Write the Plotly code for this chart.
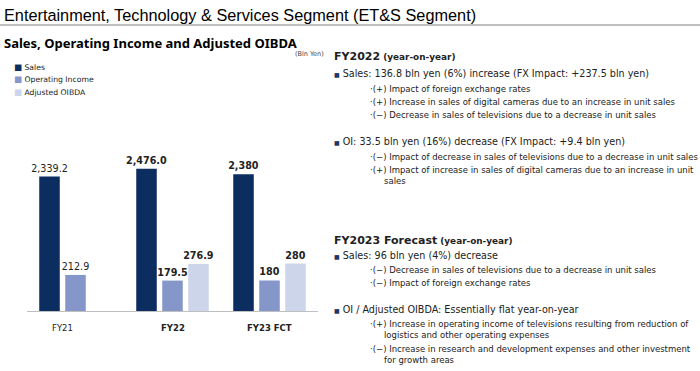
import plotly.graph_objects as go

# ---- data ----
categories = ["FY21", "FY22", "FY23 FCT"]
sales = [2339.2, 2476.0, 2380]
operating_income = [212.9, 179.5, 180]
adjusted_oibda = [None, 276.9, 280]
is_forecast = [False, False, True]
bold_cat = [False, True, True]
series_names = ["Sales", "Operating Income", "Adjusted OIBDA"]

colors = ["#0b2d60", "#8596c9", "#cdd5ea"]

W, H = 700, 371
L, R, T, B = 27, 382, 150, 60
PW, PH = W - L - R, H - T - B


def fmt(v, fc, b):
    if v is None:
        return ""
    s = f"{v:,.0f}" if fc else f"{v:,.1f}"
    return f"<b>{s}</b>" if b else s


def px(x, y):
    return (x - L) / PW, (H - B - y) / PH


fig = go.Figure()
vals = [sales, operating_income, adjusted_oibda]
axes = ["y", "y2", "y2"]
for i in range(3):
    fig.add_trace(go.Bar(
        x=categories, y=vals[i], name=series_names[i],
        marker=dict(color=colors[i], line=dict(width=0)),
        yaxis=axes[i], offsetgroup=str(i), alignmentgroup="a",
        text=[fmt(v, f, b) for v, f, b in zip(vals[i], is_forecast, bold_cat)],
        textposition="outside", cliponaxis=False, constraintext="none",
        textfont=dict(family="DejaVu Sans", size=9.6, color="#222222"),
        showlegend=False, hoverinfo="skip",
    ))

ann = []


def add_text(x, y, text, size, bold=False, color="#222222", family="DejaVu Sans", xanchor="left"):
    xp, yp = px(x, y)
    ann.append(dict(x=xp, y=yp, xref="paper", yref="paper", text=f"<b>{text}</b>" if bold else text,
                    showarrow=False, xanchor=xanchor, yanchor="middle",
                    font=dict(size=size, color=color, family=family)))


# title & subtitle
add_text(2, 15, "Entertainment, Technology &amp; Services Segment (ET&amp;S Segment)", 16.3,
         color="#000000", family="Liberation Sans")
add_text(2, 43, "Sales, Operating Income and Adjusted OIBDA", 13, bold=True, color="#000000",
         family="Noto Sans, Liberation Sans")
add_text(326, 54, "(Bln Yen)", 6.5, color="#444444", xanchor="right")

# legend
for i, n in enumerate(series_names):
    add_text(12, 67 + 12.3 * i,
             f"<span style='color:{colors[i]};font-size:8.5px'>■</span> {n}", 7.7, color="#222222")

# category labels
for i, c in enumerate(categories):
    ann.append(dict(x=c, y=0, xref="x", yref="paper", yanchor="middle", yshift=-17,
                    xshift=-13 if i == 0 else 0,
                    text=f"<b>{c}</b>" if bold_cat[i] else c, showarrow=False,
                    font=dict(size=8.5, color="#222222", family="DejaVu Sans")))

sq = "<span style='font-size:6px;color:#1f3864'>■</span> "
hdr = "<b><span style='font-size:11px'>{}</span> (year-on-year)</b>"
right = [
    (57, 332, hdr.format("FY2022"), 8.9),
    (73, 332, sq + "Sales: 136.8 bln yen (6%) increase (FX Impact: +237.5 bln yen)", 9.6),
    (89, 368, "·(+) Impact of foreign exchange rates", 8.5),
    (102, 368, "·(+) Increase in sales of digital cameras due to an increase in unit sales", 8.5),
    (115, 368, "·(−) Decrease in sales of televisions due to a decrease in unit sales", 8.5),
    (141, 332, sq + "OI: 33.5 bln yen (16%) decrease (FX Impact: +9.4 bln yen)", 9.6),
    (157, 368, "·(−) Impact of decrease in sales of televisions due to a decrease in unit sales", 8.5),
    (170, 368, "·(+) Impact of increase in sales of digital cameras due to an increase in unit", 8.5),
    (181, 382, "sales", 8.5),
    (240, 332, hdr.format("FY2023 Forecast"), 8.9),
    (255, 332, sq + "Sales: 96 bln yen (4%) decrease", 9.6),
    (270, 368, "·(−) Decrease in sales of televisions due to a decrease in unit sales", 8.5),
    (283, 368, "·(−) Impact of foreign exchange rates", 8.5),
    (309, 332, sq + "OI / Adjusted OIBDA: Essentially flat year-on-year", 9.6),
    (324, 368, "·(+) Increase in operating income of televisions resulting from reduction of", 8.5),
    (335, 382, "logistics and other operating expenses", 8.5),
    (349, 368, "·(−) Increase in research and development expenses and other investment", 8.5),
    (360, 382, "for growth areas", 8.5),
]
for y, x, t, s in right:
    add_text(x, y, t, s)

x0, _ = px(0, 0)
x1, _ = px(700, 0)
_, yl = px(0, 25)

fig.update_layout(
    width=W, height=H, margin=dict(l=L, r=R, t=T, b=B),
    paper_bgcolor="white", plot_bgcolor="white",
    barmode="group", bargap=0.196, bargroupgap=0.21,
    xaxis=dict(range=[-0.5, 2.5], showticklabels=False, showgrid=False, zeroline=False,
               showline=True, linecolor="#bfbfbf", linewidth=1, ticks=""),
    yaxis=dict(range=[0, 2800], visible=False),
    yaxis2=dict(range=[0, 950], visible=False, overlaying="y"),
    annotations=ann,
    shapes=[dict(type="line", xref="paper", yref="paper", x0=x0, x1=x1, y0=yl, y1=yl,
                 line=dict(color="#808080", width=1))],
    showlegend=False,
)

fig.write_html("out.html", config={"displayModeBar": False},
               post_script="document.body.style.margin='0px';")
